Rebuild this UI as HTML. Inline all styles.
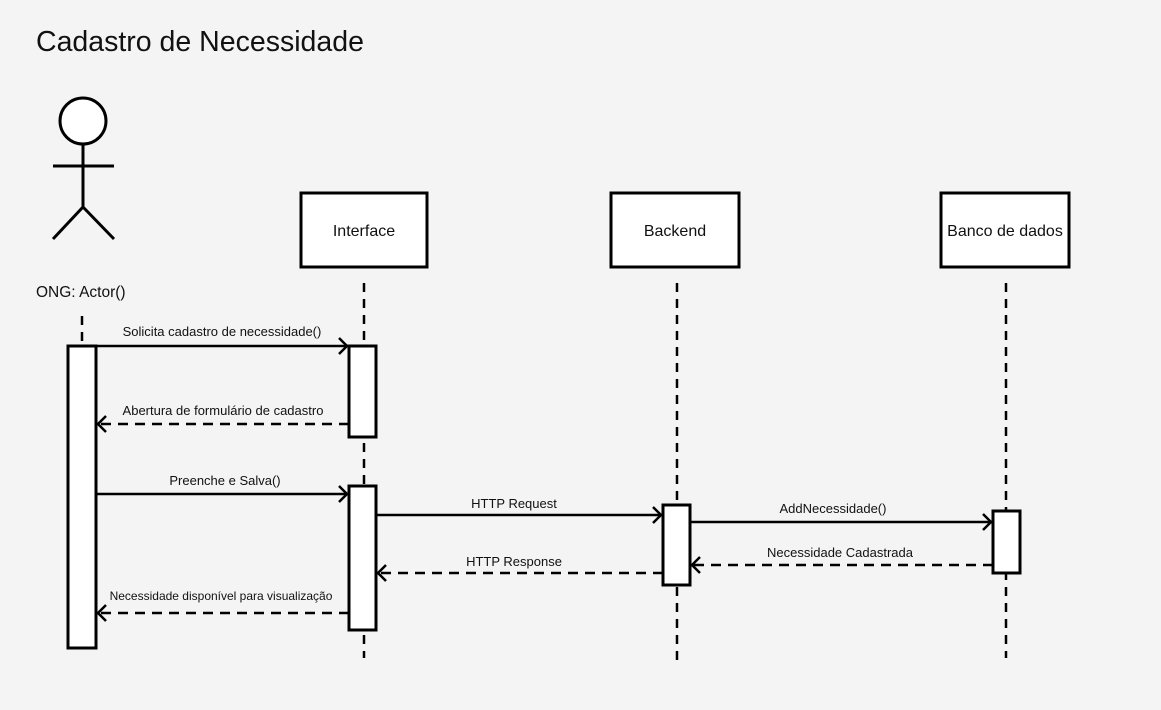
<!DOCTYPE html>
<html><head><meta charset="utf-8"><style>
html,body{margin:0;padding:0;background:#f4f4f4;}
svg{display:block;font-family:"Liberation Sans",sans-serif;}
</style></head><body>
<svg width="1161" height="710" viewBox="0 0 1161 710" xmlns="http://www.w3.org/2000/svg">
<rect width="1161" height="710" fill="#f4f4f4"/>
<text x="36" y="51" font-size="28.5" fill="#111">Cadastro de Necessidade</text>
<g stroke="#000" stroke-width="3" fill="none">
<circle cx="83" cy="121" r="23" fill="#fff"/>
<line x1="83" y1="144" x2="83" y2="207"/>
<line x1="53" y1="166" x2="114" y2="166"/>
<line x1="83" y1="207" x2="53" y2="239"/>
<line x1="83" y1="207" x2="114" y2="239"/>
</g>
<text x="36" y="297" font-size="15.5" fill="#111">ONG: Actor()</text>
<g stroke="#000" stroke-width="2.5" stroke-dasharray="9,7" fill="none">
<line x1="82" y1="316" x2="82" y2="345"/>
<line x1="364" y1="283" x2="364" y2="658"/>
<line x1="677" y1="283" x2="677" y2="665"/>
<line x1="1006" y1="283" x2="1006" y2="658"/>
</g>
<g stroke="#000" stroke-width="3" fill="#fff">
<rect x="301" y="193" width="126" height="74"/>
<rect x="611" y="193" width="128" height="74"/>
<rect x="941" y="193" width="128" height="74"/>
<rect x="68" y="346" width="28" height="302"/>
<rect x="349" y="346" width="27" height="91"/>
<rect x="349" y="486" width="27" height="144"/>
<rect x="663" y="505" width="27" height="80"/>
<rect x="993" y="511" width="27" height="62"/>
</g>
<g font-size="16" fill="#111" text-anchor="middle">
<text x="364" y="236">Interface</text>
<text x="675" y="236">Backend</text>
<text x="1005" y="236">Banco de dados</text>
</g>
<g stroke="#000" stroke-width="2.5" fill="none">
<line x1="96" y1="346" x2="347" y2="346"/>
<polyline points="339,338 347,346 339,354"/>
<line x1="96" y1="494" x2="347" y2="494"/>
<polyline points="339,486 347,494 339,502"/>
<line x1="376" y1="515" x2="661" y2="515"/>
<polyline points="653,507 661,515 653,523"/>
<line x1="690" y1="522" x2="991" y2="522"/>
<polyline points="983,514 991,522 983,530"/>
<g stroke-dasharray="10,7">
<line x1="349" y1="424" x2="98" y2="424"/>
<line x1="993" y1="565" x2="692" y2="565"/>
<line x1="663" y1="573" x2="378" y2="573"/>
<line x1="349" y1="613" x2="98" y2="613"/>
</g>
<polyline points="106,416 98,424 106,432"/>
<polyline points="700,557 692,565 700,573"/>
<polyline points="386,565 378,573 386,581"/>
<polyline points="106,605 98,613 106,621"/>
</g>
<g font-size="13" fill="#111" text-anchor="middle">
<text x="222" y="336">Solicita cadastro de necessidade()</text>
<text x="223" y="415">Abertura de formulário de cadastro</text>
<text x="225" y="485">Preenche e Salva()</text>
<text x="514" y="508">HTTP Request</text>
<text x="833" y="513">AddNecessidade()</text>
<text x="840" y="557">Necessidade Cadastrada</text>
<text x="514" y="566">HTTP Response</text>
<text x="221" y="600" font-size="12">Necessidade disponível para visualização</text>
</g>
</svg>
</body></html>
